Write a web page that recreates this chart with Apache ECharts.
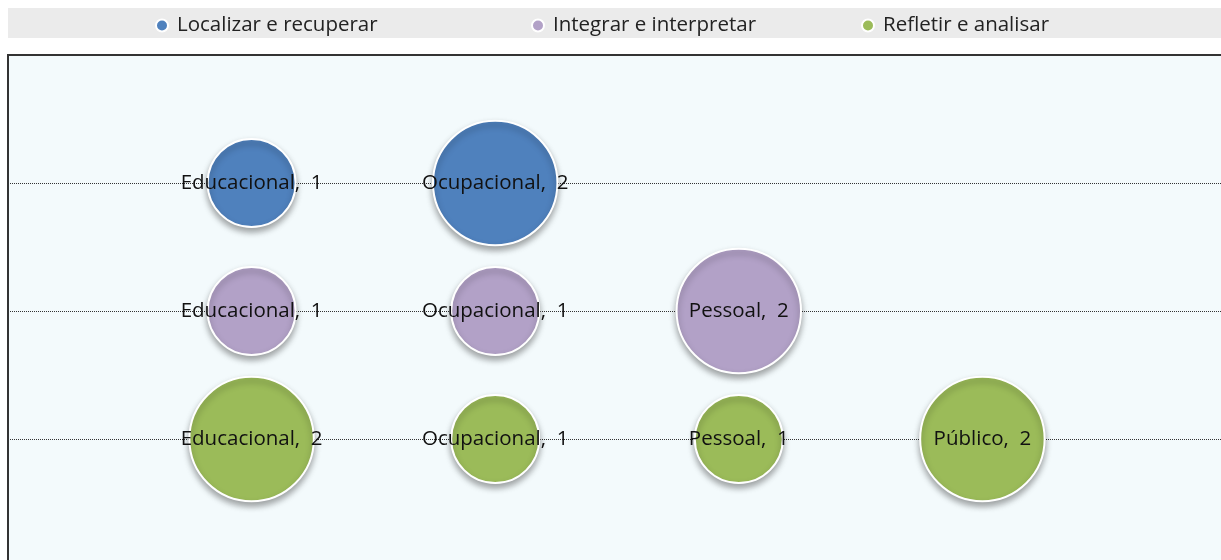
<!DOCTYPE html>
<html>
<head>
<meta charset="utf-8">
<script src="https://cdn.jsdelivr.net/npm/echarts@6/dist/echarts.min.js"></script>
<style>
  html, body { margin: 0; padding: 0; background: #fff; }
  #demo { width: 1221px; height: 560px; }
</style>
</head>
<body>
<div id="demo"></div>
<script>
var categorias = ['Educacional', 'Ocupacional', 'Pessoal', 'Público'];
var nomes = ['Localizar e recuperar', 'Integrar e interpretar', 'Refletir e analisar'];
var localizar = [1, 2, null, null];
var integrar = [1, 1, 2, null];
var refletir = [2, 1, 1, 2];
var cores = ['#4f81bd', '#b2a1c7', '#9bbb59'];

var myChart = echarts.init(document.getElementById('demo'));

// monta os pontos: x = categoria, y = linha da série
function pontos(vals, linha) {
    var out = [];
    for (var i = 0; i < vals.length; i++) {
        if (vals[i] == null) continue;
        out.push({ value: [i + 1, linha, vals[i]], name: categorias[i] });
    }
    return out;
}

var dados = [pontos(localizar, 3), pontos(integrar, 2), pontos(refletir, 1)];
var legendLeft = [150, 526, 856];

var option = {
    animation: false,
    textStyle: { fontFamily: 'Open Sans' },
    graphic: [{
        type: 'rect',
        z: -10,
        shape: { x: 8, y: 8, width: 1213, height: 30 },
        style: { fill: '#ebebeb' }
    }],
    legend: nomes.map(function (n, i) {
        return {
            data: [n],
            left: legendLeft[i],
            top: 10,
            icon: 'circle',
            itemWidth: 12,
            itemHeight: 12,
            itemGap: 0,
            textStyle: { fontSize: 20.5, color: '#222', fontFamily: 'Open Sans', padding: [0, 0, 0, 4] }
        };
    }),
    grid: {
        left: 8, top: 55, width: 1218, height: 512,
        outerBoundsMode: 'none',
        show: true,
        backgroundColor: '#f3fafc',
        borderColor: '#333',
        borderWidth: 2
    },
    xAxis: {
        type: 'value', min: 0, max: 5, interval: 1,
        axisLine: { show: false }, axisTick: { show: false }, axisLabel: { show: false },
        splitLine: { show: false }
    },
    yAxis: {
        type: 'value', min: 0, max: 4, interval: 1,
        axisLine: { show: false }, axisTick: { show: false }, axisLabel: { show: false },
        splitLine: { show: true, lineStyle: { type: 'dotted', color: '#333', width: 1 } }
    },
    series: nomes.map(function (n, i) {
        return {
            name: n,
            type: 'scatter',
            data: dados[i],
            symbolSize: function (v) { return 88 * Math.sqrt(v[2]); },
            itemStyle: {
                color: cores[i],
                borderColor: '#fff',
                borderWidth: 2,
                shadowBlur: 6,
                shadowOffsetY: 4,
                shadowColor: 'rgba(0,0,0,0.35)',
                opacity: 1
            },
            label: {
                show: true,
                position: 'inside',
                formatter: function (p) { return p.name + ',  ' + p.value[2]; },
                fontSize: 20.5,
                color: '#111',
                fontFamily: 'Open Sans'
            }
        };
    })
};
myChart.setOption(option);
</script>
</body>
</html>
